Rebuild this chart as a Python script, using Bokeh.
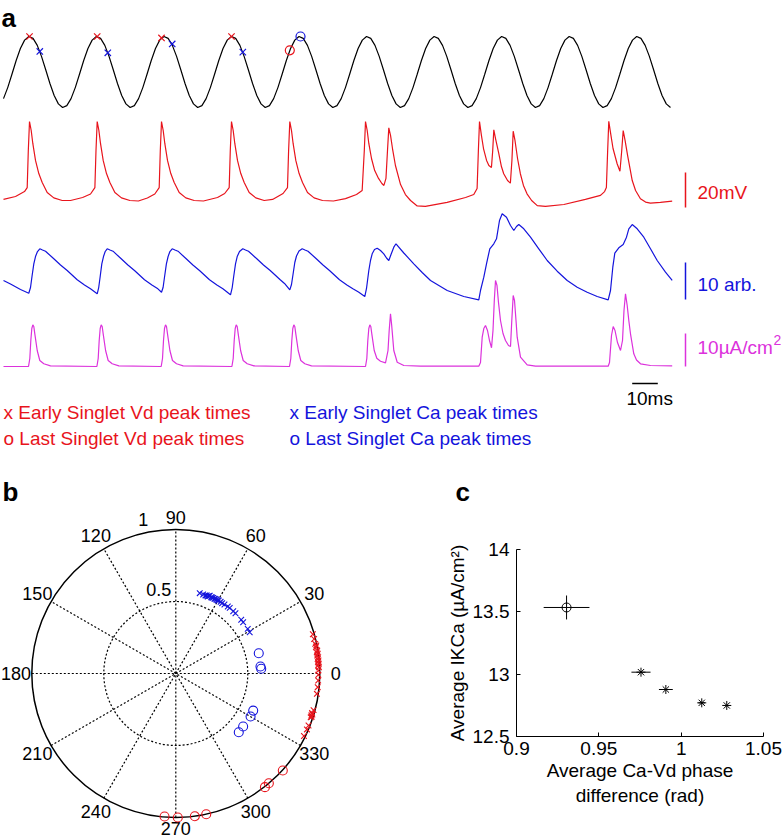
import numpy as np
from bokeh.plotting import figure
from bokeh.models import Range1d, FixedTicker
from bokeh.layouts import column, row
from bokeh.embed import file_html
from bokeh.resources import INLINE
from bokeh.core.properties import value

FONT = "Liberation Sans"
RED = "#e8141c"
BLUE = "#1414dc"
MAG = "#dc32dc"

# ---------------- panel a data ----------------
# stimulus (sampled every stim_dt ms, arbitrary units)
stim_dt = 1.649
stim = [
    -0.750, -0.440, -0.063, 0.324, 0.661, 0.898, 0.998, 0.946, 0.750, 0.440, 0.063, -0.324, -0.661, -0.898, -0.998, -0.946,
    -0.750, -0.440, -0.063, 0.324, 0.661, 0.898, 0.998, 0.946, 0.750, 0.440, 0.063, -0.324, -0.661, -0.898, -0.998, -0.946,
    -0.750, -0.440, -0.063, 0.324, 0.661, 0.898, 0.998, 0.946, 0.750, 0.440, 0.063, -0.324, -0.661, -0.898, -0.998, -0.946,
    -0.750, -0.440, -0.063, 0.324, 0.661, 0.898, 0.998, 0.946, 0.750, 0.440, 0.063, -0.324, -0.661, -0.898, -0.998, -0.946,
    -0.750, -0.440, -0.063, 0.324, 0.661, 0.898, 0.998, 0.946, 0.750, 0.440, 0.063, -0.324, -0.661, -0.898, -0.998, -0.946,
    -0.750, -0.440, -0.063, 0.324, 0.661, 0.898, 0.998, 0.946, 0.750, 0.440, 0.063, -0.324, -0.661, -0.898, -0.998, -0.946,
    -0.750, -0.440, -0.063, 0.324, 0.661, 0.898, 0.998, 0.946, 0.750, 0.440, 0.063, -0.324, -0.661, -0.898, -0.998, -0.946,
    -0.750, -0.440, -0.063, 0.324, 0.661, 0.898, 0.998, 0.946, 0.750, 0.440, 0.063, -0.324, -0.661, -0.898, -0.998, -0.946,
    -0.750, -0.440, -0.063, 0.324, 0.661, 0.898, 0.998, 0.946, 0.750, 0.440, 0.063, -0.324, -0.661, -0.898, -0.998, -0.946,
    -0.750, -0.440, -0.063, 0.324, 0.661, 0.898, 0.998, 0.946, 0.750, 0.440, 0.063, -0.324, -0.661, -0.898, -0.998,
]

# dendritic voltage Vd (ms, mV)
vd_t = [0, 4.7, 8.2, 9.26, 9.69, 10.16, 10.82, 11.45, 12.5, 13.79, 15.12, 17.07, 19.65, 22.93, 26.2, 30.9, 34.0,
        35.70, 36.13, 36.60, 37.26, 37.89, 38.94, 40.23, 41.56, 43.51, 46.09, 49.37, 52.7, 56.2, 59.1,
        60.82, 61.25, 61.72, 62.38, 63.01, 64.06, 65.35, 66.68, 68.63, 71.21, 74.49, 78.1, 83.6, 86.4,
        88.16, 88.59, 89.06, 89.72, 90.35, 91.40, 92.69, 94.02, 95.97, 98.55, 101.83, 105.1, 109.2,
        110.94, 111.37, 111.84, 112.50, 113.13, 114.18, 115.47, 116.80, 118.75, 121.33, 124.61, 128.9, 133.6, 137.9,
        140.1, 140.94, 141.41, 142.07, 142.70, 143.75, 145.0, 146.5, 147.8, 148.6, 149.4, 150.0, 150.51,
        151.2, 151.95, 153.1, 155.1, 157.0, 159.0, 161.6, 164.8, 173.3, 180.5, 183.7, 185.0, 185.5, 185.94,
        186.7, 187.5, 188.7, 189.6, 190.6, 191.1, 191.53,
        192.2, 193.4, 194.5, 195.4, 196.9, 198.0, 198.6, 199.1,
        199.8, 200.8, 201.9, 203.1, 204.5, 206.3, 208.5, 211.7, 218.9, 227.3, 233.2, 234.8, 235.5, 236.0, 236.44,
        237.1, 238.1, 239.7, 240.8, 241.5, 242.07,
        242.8, 243.8, 245.6, 246.9, 248.8, 250.8, 252.7, 256.6, 261.2]
vd_v = [-64.4, -62.7, -59.9, -57.6, -36.4, -19.9, -25.0, -32.4, -42.1, -49.6, -54.7, -60.4, -63.5, -65.0, -65.0, -63.3, -61.3,
        -57.6, -36.4, -19.9, -25.0, -32.4, -42.1, -49.6, -54.7, -60.4, -63.5, -65.0, -65.3, -63.6, -61.3,
        -57.6, -36.4, -19.9, -25.0, -32.4, -42.1, -49.6, -54.7, -60.4, -63.5, -65.0, -65.3, -63.3, -61.0,
        -57.6, -36.4, -19.9, -25.0, -32.4, -42.1, -49.6, -54.7, -60.4, -63.5, -65.0, -64.4, -61.0,
        -57.6, -36.4, -19.9, -25.0, -32.4, -42.1, -49.6, -54.7, -60.4, -63.5, -65.0, -65.3, -63.9, -61.6,
        -59.3, -36.4, -19.9, -25.0, -32.4, -41.0, -47.9, -52.4, -55.3, -56.4, -52.4, -36.4, -23.5,
        -27.9, -35.3, -45.0, -55.9, -61.6, -65.0, -68.1, -68.4, -66.1, -63.3, -61.6, -58.1, -36.4, -19.9,
        -27.9, -35.3, -42.1, -45.0, -46.1, -36.4, -24.6,
        -29.6, -37.6, -45.6, -49.7, -53.6, -55.1, -42.1, -25.4,
        -30.7, -41.0, -49.7, -56.4, -61.2, -65.0, -67.9, -68.4, -67.3, -64.4, -62.1, -59.9, -57.6, -36.4, -19.7,
        -26.1, -35.3, -44.0, -48.3, -36.4, -25.0,
        -30.7, -39.3, -53.6, -59.3, -64.0, -65.9, -66.5, -66.1, -65.4]

# calcium (ms, arb.)
ca_t = [0, 2.73, 6.64, 9.88, 10.55, 11.13, 11.84, 12.5, 13.28, 14.18, 15.23, 16.41, 19.65, 22.27, 24.88, 28.79, 31.64, 33.98, 36.60,
        37.19, 37.77, 38.40, 39.06, 39.73, 40.51, 41.60, 42.77, 45.98, 48.59, 51.17, 55.08, 57.97, 60.31, 61.72,
        62.34, 62.93, 63.63, 64.30, 65.0, 65.90, 66.99, 68.16, 71.37, 73.98, 76.56, 80.47, 83.36, 85.70, 88.67,
        89.34, 89.92, 90.63, 91.29, 92.19, 93.48, 94.53, 95.70, 98.95, 101.56, 104.18, 108.09, 109.77, 111.84,
        112.5, 113.09, 113.79, 114.45, 115.43, 116.68, 117.77, 118.95, 122.19, 124.80, 127.34, 131.25, 134.14, 136.48, 138.67, 141.13,
        141.80, 142.70, 143.36, 144.02, 144.92, 145.98, 147.27, 148.55, 149.61, 150.51, 151.37, 152.46, 153.32, 156.37, 160.27, 163.55, 166.80, 173.32, 179.80, 185.66,
        186.33, 187.62, 188.67, 189.96, 191.52, 192.58, 193.75, 194.80, 196.48, 198.05, 199.34, 200.39, 201.29, 203.24, 205.86, 209.10, 212.38, 216.29, 220.20, 224.10, 228.01, 231.91, 236.21,
        237.11, 238.01, 238.79, 240.35, 242.07, 243.36, 244.26, 245.59, 247.54, 250.12, 252.73, 255.35, 258.59, 261.21]
ca_v = [6.76, 5.81, 4.32, 3.32, 4.86, 7.84, 11.27, 13.24, 14.59, 15.33, 15.0, 14.68, 12.62, 10.95, 9.46, 6.95, 5.54, 4.51, 3.16,
        4.86, 7.84, 11.27, 13.24, 14.59, 15.33, 15.0, 14.68, 12.62, 10.95, 9.46, 6.95, 5.54, 4.51, 3.59,
        4.86, 7.84, 11.27, 13.24, 14.59, 15.33, 15.0, 14.68, 12.62, 10.95, 9.46, 6.95, 5.54, 4.51, 2.89,
        4.86, 7.84, 11.27, 13.24, 14.59, 15.33, 15.0, 14.68, 12.62, 10.95, 9.46, 6.95, 5.95, 4.24,
        5.68, 8.38, 11.62, 13.38, 14.73, 15.33, 15.0, 14.68, 12.62, 10.95, 9.46, 6.95, 5.54, 4.51, 3.65, 2.43,
        4.60, 9.46, 12.16, 13.97, 15.14, 15.49, 14.86, 13.97, 12.84, 12.16, 13.79, 15.76, 16.68, 14.19, 11.27, 8.92, 6.76, 4.05, 2.43, 1.54,
        4.05, 7.65, 11.27, 15.33, 16.68, 18.03, 22.98, 24.79, 23.87, 21.62, 20.27, 21.35, 21.89, 20.73, 18.46, 15.33, 12.16, 9.27, 6.76, 4.95, 3.59, 2.43, 1.54,
        4.05, 10.35, 14.14, 15.60, 16.49, 18.46, 20.73, 21.89, 20.73, 18.46, 15.33, 12.16, 9.0, 6.76]

# IKCa current (ms, uA/cm2)
ik_t = [0, 9.77, 10.28, 10.67, 11.06, 11.45, 11.84, 12.23, 13.17, 14.18, 15.75, 18.36,
        36.48, 36.99, 37.38, 37.77, 38.16, 38.55, 38.94, 39.88, 40.89, 42.46, 45.07,
        61.60, 62.11, 62.50, 62.89, 63.28, 63.67, 64.06, 65.0, 66.01, 67.58, 70.19,
        89.22, 89.73, 90.12, 90.51, 90.90, 91.29, 91.68, 92.62, 93.63, 95.20, 97.81,
        111.72, 112.23, 112.62, 113.01, 113.40, 113.79, 114.18, 115.12, 116.13, 117.70, 120.31,
        141.41, 141.92, 142.31, 142.70, 143.09, 143.48, 143.87, 144.81, 145.82, 147.27, 149.22,
        150.20, 150.66, 151.17, 151.64, 152.46, 153.79, 156.37, 162.89,
        185.66, 186.33, 186.99, 187.62, 188.28, 189.06, 189.84, 190.63, 191.21, 191.72, 192.19, 192.77, 193.36, 194.14,
        195.12, 196.09, 197.27, 198.05, 198.55, 199.10, 199.61, 200.20, 200.66, 201.95, 204.57, 207.81,
        236.21, 236.72, 237.50, 238.16, 238.87, 239.84, 241.02, 241.80, 242.38, 242.97, 243.63, 244.26, 244.92,
        246.21, 247.27, 248.83, 252.73, 261.21]
ik_v = [0, 0, 2.42, 7.88, 11.51, 12.64, 12.12, 9.91, 4.85, 1.82, 0.82, 0.21,
        0, 2.42, 7.88, 11.51, 12.64, 12.12, 9.91, 4.85, 1.82, 0.82, 0.21,
        0, 2.42, 7.88, 11.51, 12.64, 12.12, 9.91, 4.85, 1.82, 0.82, 0.21,
        0, 2.42, 7.88, 11.51, 12.64, 12.12, 9.91, 4.85, 1.82, 0.82, 0.21,
        0, 2.42, 7.88, 11.51, 12.64, 12.12, 9.91, 4.85, 1.82, 0.82, 0.21,
        0, 2.42, 7.88, 11.51, 12.64, 12.12, 9.91, 4.85, 2.5, 1.6, 1.12,
        4.85, 10.91, 15.97, 12.42, 4.85, 1.30, 0.30, 0.09,
        0.09, 1.21, 8.88, 11.51, 12.42, 10.91, 7.88, 5.67, 10.91, 20.0, 26.06, 24.54, 19.39, 13.94,
        10.0, 7.88, 6.36, 6.06, 13.94, 21.51, 20.0, 13.94, 8.88, 2.82, 0.52, 0.09,
        0.09, 1.21, 9.39, 12.12, 10.91, 7.27, 4.85, 7.88, 16.97, 22.03, 18.48, 13.94, 9.91,
        3.85, 1.97, 0.82, 0.30, 0.21]

# peak-time markers on the stimulus (ms, stimulus units)
early_vd_mark_t = [10.16, 36.60, 61.72, 89.06]
early_vd_mark_s = [1.0, 1.0, 0.96, 1.0]
early_ca_mark_t = [14.18, 40.74, 65.90, 93.48]
early_ca_mark_s = [0.58, 0.54, 0.79, 0.56]
last_vd_mark_t = [111.84]
last_vd_mark_s = [0.61]
last_ca_mark_t = [116.02]
last_ca_mark_s = [1.0]

scale_vd_mv = 20
scale_ca_arb = 10
scale_ik = 10
scale_ms = 10

legend_labels = ["x Early Singlet Vd peak times", "o Last Singlet Vd peak times",
                 "x Early Singlet Ca peak times", "o Last Singlet Ca peak times"]

# ---------------- panel b data (polar: degrees, radius) ----------------
early_ca_deg = [73.4, 70.9, 69.2, 68.4, 67.5, 66.9, 66.4, 65.1, 64.5, 63.7,
                62.6, 62.0, 61.1, 60.3, 59.5, 58.0, 56.6, 54.8, 52.2, 50.6,
                47.3, 45.3, 39.4, 37.3, 31.8, 29.2]
early_ca_r = [0.582, 0.581, 0.580, 0.583, 0.579, 0.586, 0.589, 0.584, 0.585, 0.586,
              0.584, 0.587, 0.585, 0.586, 0.588, 0.587, 0.585, 0.586, 0.589, 0.590,
              0.588, 0.589, 0.588, 0.588, 0.588, 0.588]
last_ca_deg = [13.7, 4.7, 3.2, -25.6, -29.9, -38.2, -43.0]
last_ca_r = [0.593, 0.590, 0.594, 0.596, 0.599, 0.595, 0.598]
early_vd_deg = [16.0, 14.0, 12.0, 11.3, 10.6, 9.2, 8.5, 7.9, 7.2, 6.5,
                5.8, 5.2, 4.5, 3.9, 3.2, 2.5, 1.2, -0.5, -2.8, -5.5,
                -8.2, -14.9, -16.2, -16.7, -17.2, -17.7, -18.0, -21.4, -23.1, -26.0]
early_vd_r = [0.990, 0.990, 0.990, 0.995, 0.990, 0.995, 0.990, 0.995, 0.990, 0.995,
              0.990, 0.995, 0.990, 0.995, 0.990, 0.995, 0.990, 0.990, 0.990, 0.990,
              0.990, 0.990, 0.985, 0.990, 0.985, 0.990, 0.985, 0.990, 0.990, 0.990]
last_vd_deg = [-94.5, -89.2, -82.4, -77.8, -51.9, -49.7, -42.2]
last_vd_r = [0.996, 1.0, 1.0, 1.0, 1.003, 0.999, 1.003]

polar_angle_ticks = [0, 30, 60, 90, 120, 150, 180, 210, 240, 270, 300, 330]
polar_radius_ticks = [0.5, 1]

# ---------------- panel c data ----------------
phase_diff = [0.9304, 0.9756, 0.9907, 1.0125, 1.0277]
phase_err = [0.0139, 0.0058, 0.0042, 0.0020, 0.0]
avg_ikca = [13.535, 13.016, 12.877, 12.770, 12.749]
ikca_err = [0.096, 0.005, 0.004, 0.004, 0.003]
c_x_ticks = [0.9, 0.95, 1.0, 1.05]
c_x_labels = ["0.9", "0.95", "1", "1.05"]
c_y_ticks = [12.5, 13.0, 13.5, 14.0]
c_y_labels = ["12.5", "13", "13.5", "14"]


def txt(fig, x, y, s, size, color="black", align="left", style="normal", **kw):
    # y is the vertical centre of the text
    fig.text(x=[x], y=[y], text=[s], text_font=value(FONT), text_font_size=size,
             text_color=color, text_align=align, text_baseline="middle",
             text_font_style=style, **kw)


# ================= panel a =================
PX_MS = 2.56
WA, HA = 782, 506
TOP, BOT = 0, HA


def t_at(xpage):
    return (xpage - 3) / PX_MS


def band(y_page, v_at, px_per_unit):
    return Range1d(v_at - (BOT - y_page) / px_per_unit, v_at + (y_page - TOP) / px_per_unit)


T_LEFT = t_at(0)
pa = figure(width=WA, height=HA, x_range=Range1d(T_LEFT, T_LEFT + WA / PX_MS),
            y_range=Range1d(BOT, TOP), x_axis_location=None, y_axis_location=None,
            toolbar_location=None, output_backend="svg", min_border=0,
            outline_line_color=None)
pa.grid.visible = False
pa.extra_y_ranges = {"stim": band(71.5, 0, 35.5), "vd": band(200, -65, 1.75),
                     "ca": band(305, 0, 3.7), "ik": band(366, 0, 3.3)}

stim_t = np.arange(len(stim)) * stim_dt
pa.line(stim_t, stim, y_range_name="stim", line_color="black", line_width=1.2)
pa.line(vd_t, vd_v, y_range_name="vd", line_color=RED, line_width=1.2)
pa.line(ca_t, ca_v, y_range_name="ca", line_color=BLUE, line_width=1.2)
pa.line(ik_t, ik_v, y_range_name="ik", line_color=MAG, line_width=1.2)

pa.scatter(early_vd_mark_t, early_vd_mark_s, y_range_name="stim", marker="x", size=9, line_color=RED, line_width=1.2)
pa.scatter(early_ca_mark_t, early_ca_mark_s, y_range_name="stim", marker="x", size=9, line_color=BLUE, line_width=1.2)
pa.scatter(last_vd_mark_t, last_vd_mark_s, y_range_name="stim", marker="circle", size=9, fill_color=None, line_color=RED, line_width=1.2)
pa.scatter(last_ca_mark_t, last_ca_mark_s, y_range_name="stim", marker="circle", size=9, fill_color=None, line_color=BLUE, line_width=1.2)

# scale bars
BAR_T = t_at(685)
pa.segment(x0=[BAR_T], y0=[-69], x1=[BAR_T], y1=[-69 + scale_vd_mv], y_range_name="vd", line_color=RED, line_width=1.5)
pa.segment(x0=[BAR_T], y0=[1.62], x1=[BAR_T], y1=[1.62 + scale_ca_arb], y_range_name="ca", line_color=BLUE, line_width=1.5)
pa.segment(x0=[BAR_T], y0=[0], x1=[BAR_T], y1=[scale_ik], y_range_name="ik", line_color=MAG, line_width=1.5)
pa.segment(x0=[t_at(631.7)], y0=[383], x1=[t_at(631.7) + scale_ms], y1=[383], line_color="black", line_width=1.5)

TXT_T = t_at(697)
txt(pa, TXT_T, 191.7, "%dmV" % scale_vd_mv, "19px", RED)
txt(pa, TXT_T, 283.5, "%d arb." % scale_ca_arb, "19px", BLUE)
txt(pa, TXT_T, 346.5, "%dµA/cm" % scale_ik, "19px", MAG)
txt(pa, t_at(773), 339, "2", "14px", MAG)
txt(pa, t_at(649.2), 398.3, "%dms" % scale_ms, "19px", "black", align="center")

txt(pa, t_at(3), 412.2, legend_labels[0], "19px", RED)
txt(pa, t_at(3), 438.4, legend_labels[1], "19px", RED)
txt(pa, t_at(289), 412.2, legend_labels[2], "19px", BLUE)
txt(pa, t_at(289), 438.4, legend_labels[3], "19px", BLUE)

txt(pa, t_at(1), 17.4, "a", "26px", "black", style="bold")
txt(pa, t_at(2), 491.5, "b", "26px", "black", style="bold")
txt(pa, t_at(455), 491.5, "c", "26px", "black", style="bold")

# ================= panel b (polar) =================
R_PX = 144.0
WB, HB = 400, 334
CX, CY = 175.3, 840 - 673  # centre from left / bottom of this figure
pb = figure(width=WB, height=HB,
            x_range=Range1d(-CX / R_PX, (WB - CX) / R_PX),
            y_range=Range1d(-CY / R_PX, (HB - CY) / R_PX),
            x_axis_location=None, y_axis_location=None, toolbar_location=None,
            output_backend="svg", min_border=0, outline_line_color=None)
pb.grid.visible = False

spoke = np.radians(polar_angle_ticks[:6])
pb.segment(x0=-np.cos(spoke), y0=-np.sin(spoke), x1=np.cos(spoke), y1=np.sin(spoke),
           line_color="black", line_width=1.2, line_dash="2 2")
pb.circle(x=[0], y=[0], radius=[polar_radius_ticks[0]], fill_color=None,
          line_color="black", line_width=1.2, line_dash="2 2")
pb.circle(x=[0], y=[0], radius=[polar_radius_ticks[1]], fill_color=None,
          line_color="black", line_width=1.5)

for deg in polar_angle_ticks:
    a = np.radians(deg)
    rr = {90: 1.085, 270: 1.075}.get(deg, 1.11)
    txt(pb, rr * np.cos(a), rr * np.sin(a), str(deg), "18px", align="center")
txt(pb, -0.119, 0.58, "0.5", "18px", align="center")
txt(pb, -0.226, 1.07, "1", "18px", align="center")


def pol(deg, r):
    a = np.radians(deg)
    return np.array(r) * np.cos(a), np.array(r) * np.sin(a)


x, y = pol(early_ca_deg, early_ca_r)
pb.scatter(x, y, marker="x", size=8, line_color=BLUE, line_width=1.1)
x, y = pol(last_ca_deg, last_ca_r)
pb.scatter(x, y, marker="circle", size=9, fill_color=None, line_color=BLUE, line_width=1.1)
x, y = pol(early_vd_deg, early_vd_r)
pb.scatter(x, y, marker="x", size=8, line_color=RED, line_width=1.1)
x, y = pol(last_vd_deg, last_vd_r)
pb.scatter(x, y, marker="circle", size=9, fill_color=None, line_color=RED, line_width=1.1)

# ================= panel c =================
pc = figure(width=382, height=334, x_range=Range1d(0.9, 1.05), y_range=Range1d(12.5, 14.0),
            toolbar_location=None, output_backend="svg",
            min_border_left=116, min_border_right=19, min_border_top=43, min_border_bottom=104,
            outline_line_color=None)
pc.grid.visible = False
pc.xaxis.ticker = FixedTicker(ticks=c_x_ticks)
pc.yaxis.ticker = FixedTicker(ticks=c_y_ticks)
pc.xaxis.major_label_overrides = dict(zip(c_x_ticks, c_x_labels))
pc.yaxis.major_label_overrides = dict(zip(c_y_ticks, c_y_labels))
pc.xaxis.axis_label = "Average Ca-Vd phase\ndifference (rad)"
pc.yaxis.axis_label = "Average IKCa (µA/cm²)"
for ax in (pc.xaxis[0], pc.yaxis[0]):
    ax.axis_line_color = "black"
    ax.axis_line_width = 1
    ax.major_tick_line_color = "black"
    ax.major_tick_in = 4
    ax.major_tick_out = 0
    ax.minor_tick_line_color = None
    ax.major_label_text_font = FONT
    ax.major_label_text_font_size = "19px"
    ax.major_label_text_color = "black"
    ax.axis_label_text_font = FONT
    ax.axis_label_text_font_size = "19px"
    ax.axis_label_text_font_style = "normal"
    ax.axis_label_text_color = "black"
    ax.axis_label_standoff = 2
pc.xaxis.major_label_standoff = 5
pc.yaxis.major_label_standoff = 7

ph = np.array(phase_diff)
phe = np.array(phase_err)
ikc = np.array(avg_ikca)
ike = np.array(ikca_err)
pc.segment(x0=ph - phe, y0=ikc, x1=ph + phe, y1=ikc, line_color="black", line_width=1)
pc.segment(x0=ph, y0=ikc - ike, x1=ph, y1=ikc + ike, line_color="black", line_width=1)
pc.scatter(ph[:1], ikc[:1], marker="circle", size=9, fill_color=None, line_color="black", line_width=1)
pc.scatter(ph[1:], ikc[1:], marker="asterisk", size=9, line_color="black", line_width=1)

# each bottom panel wrapped separately so their frames are laid out independently
layout = column(pa, row(column(pb), column(pc)))
open("out.html", "w").write(file_html(layout, INLINE))
